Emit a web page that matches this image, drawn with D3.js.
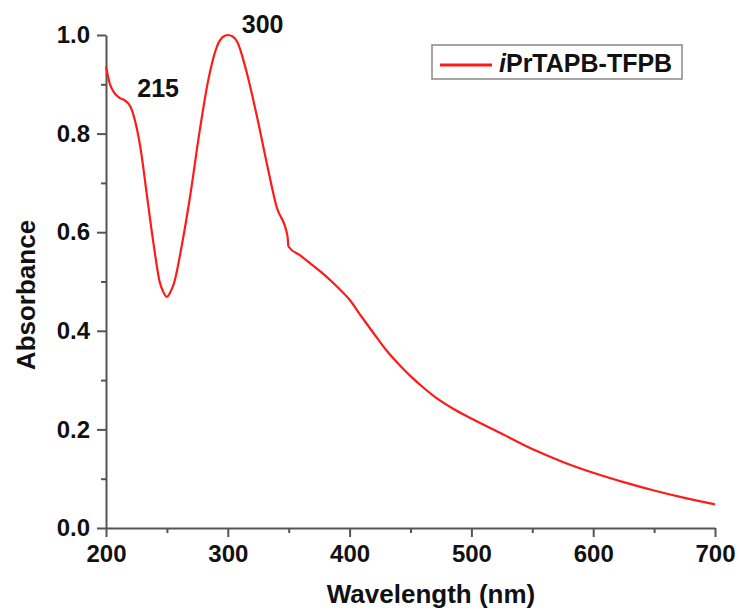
<!DOCTYPE html>
<html>
<head>
<meta charset="utf-8">
<script src="https://cdn.jsdelivr.net/npm/d3@7"></script>
<style>
body { margin: 0; background: #fff; }
text { font-family: "Liberation Sans", Arial, sans-serif; font-weight: bold; fill: #111; }
</style>
</head>
<body>
<script>
// spectrum
var wavelength = [200, 203, 207, 211.5, 215, 220, 225, 229, 233, 239, 244, 247, 250, 253, 256, 262, 269, 277, 284, 291, 296, 300, 304, 308, 315, 324, 332, 340, 349, 349.8, 360, 370, 380, 390, 400, 410, 420, 430, 440, 450, 460, 470, 485, 500, 525, 550, 575, 600, 625, 650, 675, 700];
var absorbance = [0.936, 0.902, 0.882, 0.872, 0.868, 0.855, 0.814, 0.760, 0.686, 0.577, 0.500, 0.479, 0.469, 0.479, 0.498, 0.570, 0.672, 0.807, 0.909, 0.976, 0.996, 1.0, 0.997, 0.985, 0.929, 0.834, 0.740, 0.652, 0.592, 0.571, 0.552, 0.532, 0.512, 0.489, 0.463, 0.428, 0.394, 0.361, 0.333, 0.308, 0.286, 0.266, 0.242, 0.222, 0.191, 0.160, 0.134, 0.112, 0.093, 0.076, 0.061, 0.048];

var xTicks = [200, 300, 400, 500, 600, 700];
var xMinor = [250, 350, 450, 550, 650];
var yTicks = [0.0, 0.2, 0.4, 0.6, 0.8, 1.0];
var yMinor = [0.1, 0.3, 0.5, 0.7, 0.9];
var peakLabels = [{wl: 215, text: "215"}, {wl: 300, text: "300"}];
var seriesName = "PrTAPB-TFPB";

var margin = {top: 35, right: 25, bottom: 83, left: 106};
var width = 740 - margin.left - margin.right;
var height = 611 - margin.top - margin.bottom;

var xScale = d3.scaleLinear().domain([200, 700]).range([0, width]);
var yScale = d3.scaleLinear().domain([0, 1]).range([height, 0]);

var svg = d3.select("body").append("svg")
.attr("width", 740)
.attr("height", 611);

var mySVG = svg.append("g")
.attr("transform", "translate(" + margin.left + "," + margin.top + ")");

var axisColor = "#555";

// minor ticks first, majors on top
mySVG.append("g")
.attr("transform", "translate(0," + height + ")")
.call(d3.axisBottom(xScale).tickValues(xMinor).tickSize(5).tickFormat(""))
.call(function(g){ g.select(".domain").remove(); });

mySVG.append("g")
.call(d3.axisLeft(yScale).tickValues(yMinor).tickSize(5).tickFormat(""))
.call(function(g){ g.select(".domain").remove(); });

var xAxisGroup = mySVG.append("g")
.attr("transform", "translate(0," + height + ")")
.call(d3.axisBottom(xScale).tickValues(xTicks).tickSize(9).tickSizeOuter(0).tickPadding(8).tickFormat(d3.format("d")));

var yAxisGroup = mySVG.append("g")
.call(d3.axisLeft(yScale).tickValues(yTicks).tickSize(9).tickSizeOuter(0).tickPadding(7).tickFormat(d3.format(".1f")));

mySVG.selectAll(".domain, .tick line")
.attr("stroke", axisColor)
.attr("stroke-width", 2);

mySVG.selectAll(".tick text")
.attr("font-size", 24)
.attr("font-family", "'Liberation Sans', Arial, sans-serif")
.attr("font-weight", "bold")
.attr("fill", "#111");

// curve
var line = d3.line()
.x(function(d, i){ return xScale(wavelength[i]); })
.y(function(d){ return yScale(d); })
.curve(d3.curveMonotoneX);

mySVG.append("path")
.datum(absorbance)
.attr("fill", "none")
.attr("stroke", "#ff1a1a")
.attr("stroke-width", 2.2)
.attr("d", line);

// peak labels
mySVG.selectAll(".peak")
.data(peakLabels)
.enter()
.append("text")
.attr("class", "peak")
.attr("x", function(d){ return d.wl === 215 ? xScale(d.wl) + 13 : xScale(d.wl) + 14; })
.attr("y", function(d){ return d.wl === 215 ? 62 : -2; })
.attr("font-size", 25)
.text(function(d){ return d.text; });

// axis titles
svg.append("text")
.attr("x", 431)
.attr("y", 603)
.attr("text-anchor", "middle")
.attr("font-size", 26)
.text("Wavelength (nm)");

svg.append("text")
.attr("transform", "translate(35," + 295 + ") rotate(-90)")
.attr("text-anchor", "middle")
.attr("font-size", 26)
.text("Absorbance");

// legend
var legend = svg.append("g").attr("transform", "translate(432,45)");
legend.append("rect")
.attr("width", 250)
.attr("height", 34)
.attr("fill", "#fff")
.attr("stroke", "#888")
.attr("stroke-width", 1.5);
legend.append("line")
.attr("x1", 8).attr("x2", 60)
.attr("y1", 20).attr("y2", 20)
.attr("stroke", "#ff1a1a")
.attr("stroke-width", 3);
var lt = legend.append("text")
.attr("x", 67)
.attr("y", 27)
.attr("font-size", 25);
lt.append("tspan").attr("font-style", "italic").text("i");
lt.append("tspan").text(seriesName);
</script>
</body>
</html>
